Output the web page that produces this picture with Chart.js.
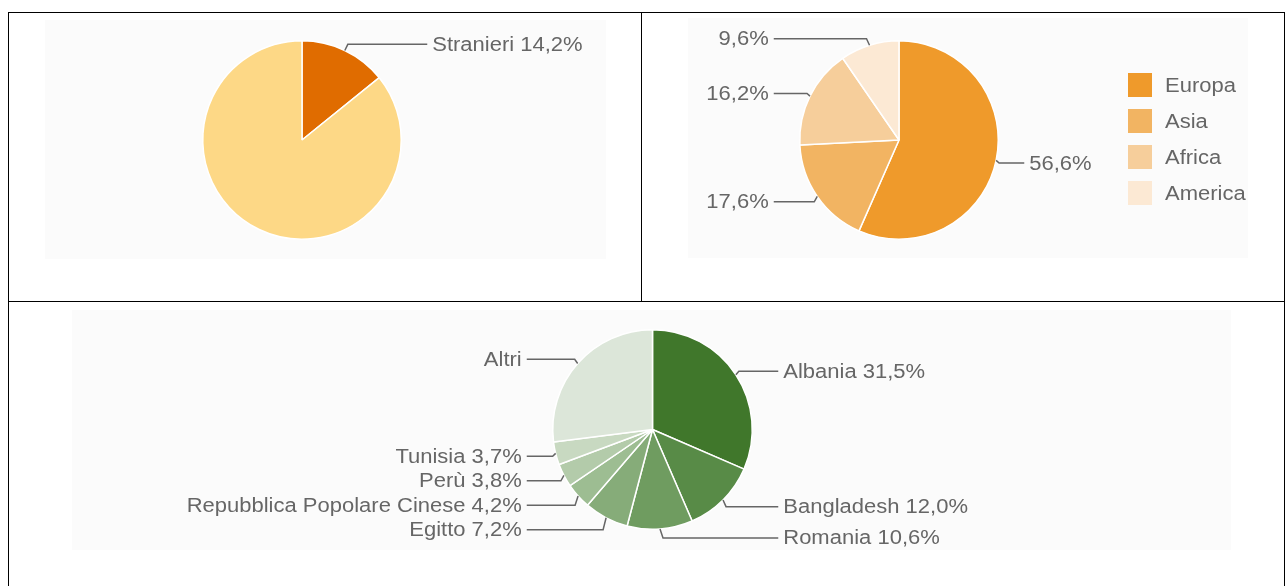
<!DOCTYPE html>
<html>
<head>
<meta charset="utf-8">
<script src="https://cdn.jsdelivr.net/npm/chart.js@4.4.0/dist/chart.umd.min.js"></script>
<style>
  body { margin: 0; background: #fff; width: 1285px; height: 586px; overflow: hidden; position: relative; }
  .rule { position: absolute; background: #000; }
  .box { position: absolute; background: #fbfbfb; }
  .box canvas { display: block; }
</style>
</head>
<body>
<div class="rule" style="left:8px;top:12px;width:1277px;height:1px"></div>
<div class="rule" style="left:8px;top:301px;width:1277px;height:1px"></div>
<div class="rule" style="left:8px;top:12px;width:1px;height:574px"></div>
<div class="rule" style="left:641px;top:12px;width:1px;height:290px"></div>
<div class="rule" style="left:1284px;top:12px;width:1px;height:574px"></div>

<div class="box" style="left:45px;top:20px;width:561px;height:239px"><canvas id="stranieri"></canvas></div>
<div class="box" style="left:688px;top:18px;width:560px;height:240px"><canvas id="continenti"></canvas></div>
<div class="box" style="left:72px;top:310px;width:1159px;height:240px"><canvas id="paesi"></canvas></div>

<script>
// quota stranieri sul totale
var strLabels = ['Stranieri', 'Italiani'];
var strValues = [14.2, 85.8];
var strColors = ['#e06c00', '#fdd886'];

// stranieri per continente
var contLabels = ['Europa', 'Asia', 'Africa', 'America'];
var contValues = [56.6, 17.6, 16.2, 9.6];
var contColors = ['#ef9a2b', '#f2b462', '#f6ce9b', '#fce9d4'];

// stranieri per paese
var paesiLabels = ['Albania', 'Bangladesh', 'Romania', 'Egitto', 'Repubblica Popolare Cinese', 'Perù', 'Tunisia', 'Altri'];
var paesiValues = [31.5, 12.0, 10.6, 7.2, 4.2, 3.8, 3.7, 27.0];
var paesiColors = ['#40772b', '#588b47', '#6f9c60', '#86ac79', '#9dbd92', '#b3cbaa', '#c8d9c1', '#dce6d9'];

var FONT = '20px "Liberation Sans", Arial, sans-serif';
var GREY = '#666';

function pct(v) {
  return v.toFixed(1).replace('.', ',') + '%';
}

function drawText(ctx, text, x, y, align) {
  ctx.save();
  ctx.translate(x, y);
  ctx.scale(1.1, 1);
  ctx.textAlign = align;
  ctx.fillText(text, 0, 1);
  ctx.restore();
}

// label con linea di richiamo, come nei grafici originali
var callouts = {
  id: 'callouts',
  afterDatasetsDraw: function(chart, args, opts) {
    var ctx = chart.ctx;
    var meta = chart.getDatasetMeta(0);
    var items = [];
    meta.data.forEach(function(arc, i) {
      var text = opts.text(i);
      if (!text) return;
      var p = arc.getProps(['x', 'y', 'startAngle', 'endAngle', 'outerRadius'], true);
      var mid = (p.startAngle + p.endAngle) / 2;
      var c = Math.cos(mid), s = Math.sin(mid);
      items.push({
        text: text,
        right: c >= 0,
        ax: p.x + p.outerRadius * c,
        ay: p.y + p.outerRadius * s,
        ty: p.y + p.outerRadius * 1.08 * s + 1,
        cx: p.x,
        r: p.outerRadius
      });
    });
    [true, false].forEach(function(side) {
      var list = items.filter(function(it) { return it.right === side; })
                      .sort(function(a, b) { return a.ty - b.ty; });
      for (var k = 1; k < list.length; k++) {
        if (list[k].ty < list[k - 1].ty + 24.5) list[k].ty = list[k - 1].ty + 24.5;
      }
    });
    ctx.save();
    ctx.strokeStyle = GREY;
    ctx.fillStyle = GREY;
    ctx.lineWidth = 1.5;
    ctx.font = FONT;
    ctx.textBaseline = 'middle';
    items.forEach(function(it) {
      var dir = it.right ? 1 : -1;
      var tx = it.cx + dir * (it.r + 31);
      ctx.beginPath();
      ctx.moveTo(it.ax, it.ay);
      ctx.lineTo(it.ax + dir * 3, it.ty);
      ctx.lineTo(tx - dir * 5, it.ty);
      ctx.stroke();
      drawText(ctx, it.text, tx, it.ty, it.right ? 'left' : 'right');
    });
    ctx.restore();
  }
};

var sideLegend = {
  id: 'sideLegend',
  afterDraw: function(chart, args, opts) {
    var ctx = chart.ctx;
    var colors = chart.data.datasets[0].backgroundColor;
    ctx.save();
    ctx.font = FONT;
    ctx.textBaseline = 'middle';
    chart.data.labels.forEach(function(lab, i) {
      var y = opts.y + i * 36;
      ctx.fillStyle = colors[i];
      ctx.fillRect(opts.x, y, 24, 24);
      ctx.fillStyle = GREY;
      drawText(ctx, lab, opts.x + 37, y + 12, 'left');
    });
    ctx.restore();
  }
};

function pie(id, labels, values, colors, padding, labelText, extra) {
  var plugins = [callouts];
  var pluginOpts = { legend: { display: false }, tooltip: { enabled: false }, callouts: { text: labelText } };
  if (extra) {
    plugins.push(sideLegend);
    pluginOpts.sideLegend = extra;
  }
  return new Chart(document.getElementById(id), {
    type: 'pie',
    data: {
      labels: labels,
      datasets: [{
        data: values,
        backgroundColor: colors,
        borderColor: '#ffffff',
        borderWidth: 1.5
      }]
    },
    options: {
      responsive: true,
      maintainAspectRatio: false,
      animation: false,
      layout: { padding: padding },
      plugins: pluginOpts
    },
    plugins: plugins
  });
}

pie('stranieri', strLabels, strValues, strColors,
  { left: 157, right: 204, top: 20, bottom: 19 },
  function(i) { return i === 0 ? strLabels[i] + ' ' + pct(strValues[i]) : null; });

pie('continenti', contLabels, contValues, contColors,
  { left: 111, right: 249, top: 22, bottom: 18 },
  function(i) { return pct(contValues[i]); },
  { x: 440, y: 55 });

pie('paesi', paesiLabels, paesiValues, paesiColors,
  { left: 480, right: 478, top: 19, bottom: 20 },
  function(i) {
    return paesiLabels[i] === 'Altri' ? 'Altri' : paesiLabels[i] + ' ' + pct(paesiValues[i]);
  });
</script>
</body>
</html>
